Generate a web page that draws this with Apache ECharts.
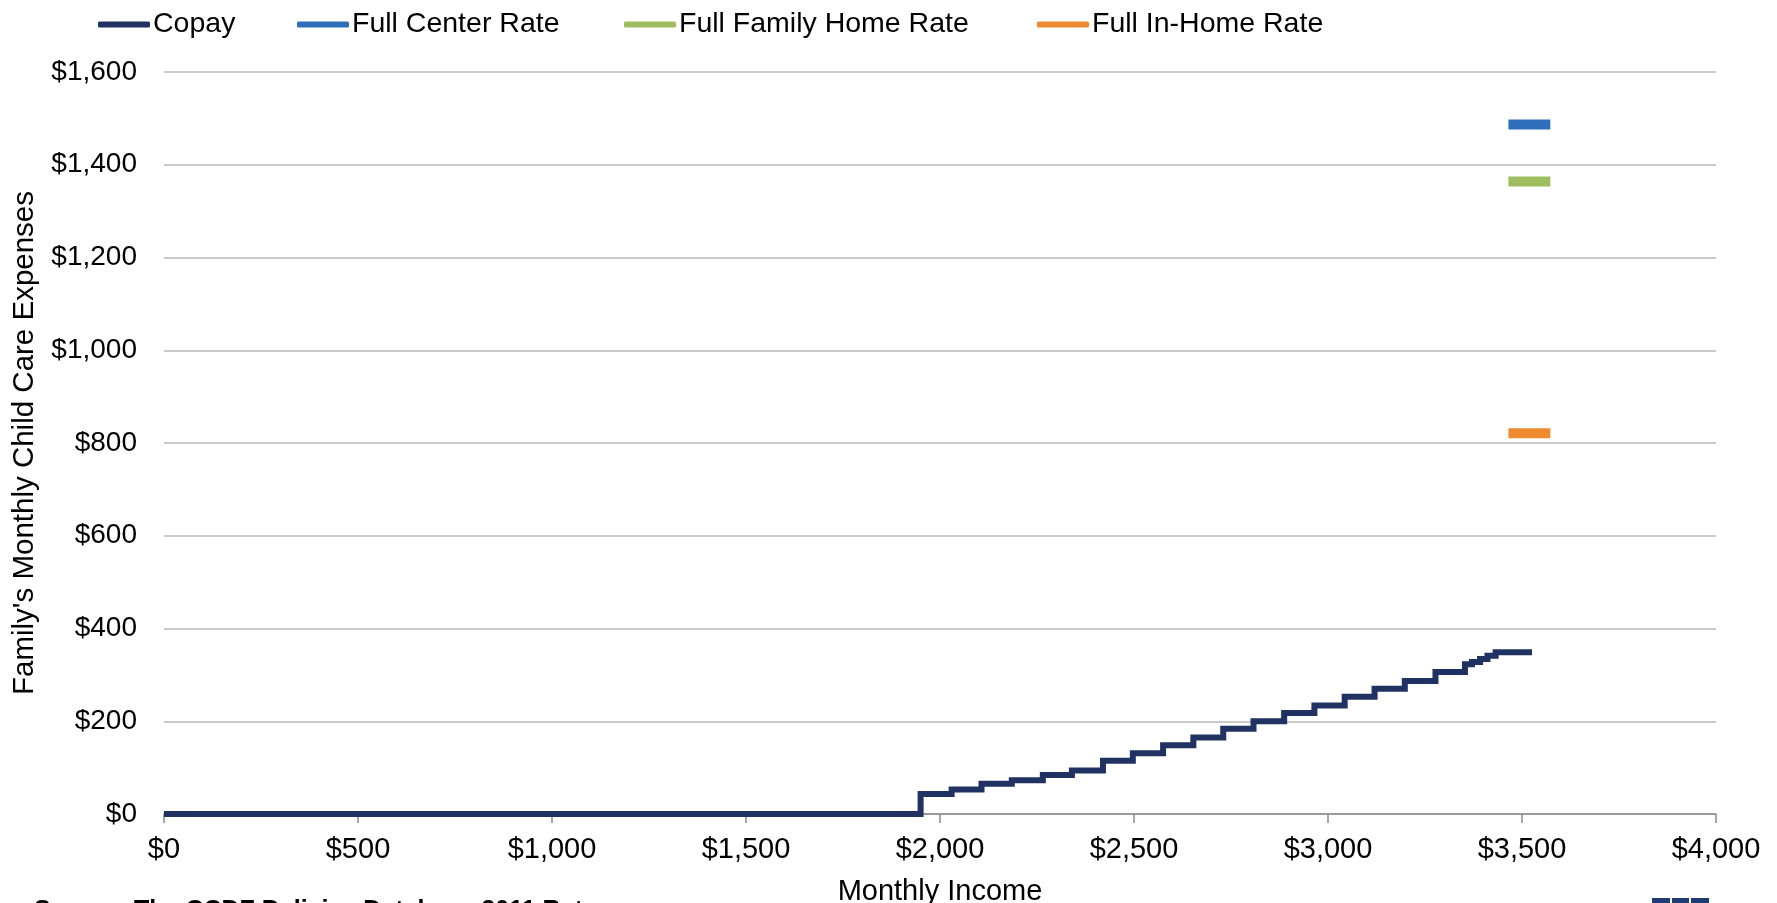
<!DOCTYPE html>
<html>
<head>
<meta charset="utf-8">
<script src="https://cdn.jsdelivr.net/npm/echarts@6/dist/echarts.min.js"></script>
<style>
html,body{margin:0;padding:0;background:#fff;}
#chart{width:1777px;height:903px;}
</style>
</head>
<body>
<div id="chart"></div>
<script>
// Copay step function: income where each step starts, and copay value held from there
const copayIncome = [0, 1950, 2030, 2107, 2185, 2265, 2340, 2420, 2497, 2575, 2653, 2730, 2808, 2887, 2965, 3043, 3120, 3198, 3277, 3353, 3371, 3392, 3411, 3432, 3518];
const copayValue  = [0, 43, 53, 65, 73, 84, 94, 115, 131, 148, 165, 184, 200, 218, 234, 253, 270, 287, 306, 323, 328, 334, 341, 349, 355];

// Full rate markers (short horizontal dashes)
const rateIncome = [3465, 3573];
const fullCenterRate = 1487;
const fullFamilyHomeRate = 1364;
const fullInHomeRate = 821;

const seriesNames = ['Copay', 'Full Center Rate', 'Full Family Home Rate', 'Full In-Home Rate'];
const seriesColors = ['#1F3262', '#2E6EBA', '#9DBD5E', '#EE8B30'];

const xTicks = [0, 500, 1000, 1500, 2000, 2500, 3000, 3500, 4000];
const yTicks = [0, 200, 400, 600, 800, 1000, 1200, 1400, 1600];

const sourceText = 'Source: The CCDF Policies Database 2011 Rates';

function money(v){ return '$' + Math.round(v).toLocaleString('en-US'); }

const chart = echarts.init(document.getElementById('chart'), null, {renderer:'canvas'});

const legendLefts = [93, 292, 619, 1032];
const legends = seriesNames.map((n, i) => ({
  data: [n],
  left: legendLefts[i],
  top: 5,
  icon: 'roundRect',
  itemWidth: 52,
  itemHeight: 6,
  itemGap: 0,
  textStyle: {fontFamily: 'Liberation Sans, Arial', fontSize: 28.5, color: '#000', padding: [0,0,0,-2]}
}));

const copayData = copayIncome.map((x, i) => [x, copayValue[i]]);
function rateSeries(name, val, color){
  return {
    name: name, type: 'line', showSymbol: false, symbol: 'none',
    data: rateIncome.map(x => [x, val]),
    lineStyle: {color: color, width: 10, cap: 'butt'},
    itemStyle: {color: color},
    silent: true, animation: false, z: 3
  };
}

chart.setOption({
  animation: false,
  backgroundColor: '#fff',
  legend: legends,
  grid: {left: 164, right: 61, top: 72, bottom: 89, containLabel: false, outerBoundsMode: 'none'},
  xAxis: {
    type: 'value', min: xTicks[0], max: xTicks[xTicks.length-1], interval: 500,
    name: 'Monthly Income', nameLocation: 'middle', nameGap: 63,
    nameTextStyle: {fontFamily: 'Liberation Sans, Arial', fontSize: 29, color: '#000'},
    axisLine: {show: true, lineStyle: {color: '#8C8C8C', width: 1.5}},
    axisTick: {show: true, length: 9, lineStyle: {color: '#8C8C8C', width: 1.5}},
    axisLabel: {formatter: money, fontFamily: 'Liberation Sans, Arial', fontSize: 29, color: '#000', margin: 21},
    splitLine: {show: false}
  },
  yAxis: {
    type: 'value', min: yTicks[0], max: yTicks[yTicks.length-1], interval: 200,
    name: "Family's Monthly Child Care Expenses", nameLocation: 'middle', nameGap: 124,
    nameTextStyle: {fontFamily: 'Liberation Sans, Arial', fontSize: 29.5, color: '#000'},
    axisLine: {show: false},
    axisTick: {show: false},
    axisLabel: {formatter: money, fontFamily: 'Liberation Sans, Arial', fontSize: 28, color: '#000', margin: 27},
    splitLine: {show: true, lineStyle: {color: '#B8B8B8', width: 1.5}}
  },
  series: [
    {
      name: seriesNames[0], type: 'line', step: 'end', showSymbol: false, symbol: 'none',
      data: copayData,
      lineStyle: {color: seriesColors[0], width: 6, join: 'miter'},
      itemStyle: {color: seriesColors[0]}, z: 4
    },
    rateSeries(seriesNames[1], fullCenterRate, seriesColors[1]),
    rateSeries(seriesNames[2], fullFamilyHomeRate, seriesColors[2]),
    rateSeries(seriesNames[3], fullInHomeRate, seriesColors[3])
  ],
  graphic: [
    {type: 'text', left: 34, top: 899, style: {text: sourceText, fontFamily: 'Liberation Sans, Arial', fontSize: 25, fontWeight: 'bold', fill: '#000'}},
    {type: 'rect', shape: {x: 1652, y: 898, width: 18, height: 10}, style: {fill: '#1F3B73'}},
    {type: 'rect', shape: {x: 1672, y: 898, width: 17, height: 10}, style: {fill: '#1F3B73'}},
    {type: 'rect', shape: {x: 1691, y: 898, width: 18, height: 10}, style: {fill: '#1F3B73'}}
  ]
});
</script>
</body>
</html>
